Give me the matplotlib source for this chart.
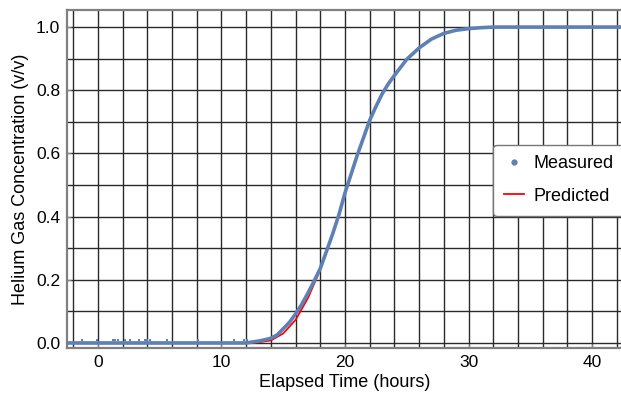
import matplotlib.pyplot as plt
import numpy as np

# measured helium concentration
meas_t = [-2.5, 0, 4, 8, 12, 12.5, 13, 13.5, 14, 14.5, 15, 15.5, 16, 16.5, 17, 17.5,
          18, 18.5, 19, 19.5, 20, 20.5, 21, 21.5, 22, 22.5, 23, 23.5, 24, 25, 26,
          27, 28, 29, 30, 31, 32, 35, 40, 43]
meas_c = [0.0, 0.0, 0.0, 0.0, 0.0, 0.003, 0.006, 0.01, 0.015, 0.025, 0.045, 0.065, 0.092,
          0.122, 0.158, 0.196, 0.236, 0.29, 0.345, 0.405, 0.475, 0.535, 0.595, 0.65,
          0.705, 0.748, 0.788, 0.82, 0.847, 0.898, 0.934, 0.962, 0.98, 0.99, 0.995,
          0.998, 1.0, 1.0, 1.0, 1.0]
# stray readings just above the baseline
stray_t = [-1.3, -0.1, 1.2, 1.4, 1.6, 2.2, 2.6, 3.3, 3.8, 4.0, 4.2, 5.6, 8.1, 11.0, 11.8, 12.1]
stray_c = [0.008] * len(stray_t)

# predicted curve
pred_t = [12, 13, 14, 15, 16, 17, 18, 19, 20, 21, 22, 23, 24, 25, 26, 27, 28, 29, 30, 31, 32]
pred_c = [0.0, 0.002, 0.008, 0.03, 0.073, 0.142, 0.232, 0.345, 0.472, 0.595, 0.705,
          0.788, 0.847, 0.898, 0.934, 0.962, 0.98, 0.99, 0.995, 0.998, 1.0]

plt.rcParams['font.family'] = 'Liberation Sans'

fig = plt.figure(figsize=(6.21, 3.99), dpi=100)
ax = fig.add_axes([67/621, 51/399, 556/621, 338/399])

for gx in np.arange(-2, 43, 2):
    ax.axvline(gx, color='#2a2a2a', lw=1.0, zorder=1)
for gy in np.arange(0, 1.01, 0.1):
    ax.axhline(gy, color='#2a2a2a', lw=1.0, zorder=1)

ax.plot(pred_t, pred_c, color='#ff0000', lw=1.3, zorder=2, label='Predicted')
ax.plot(meas_t, meas_c, color='#5e81b5', lw=2.6, zorder=3, solid_capstyle='butt')
ax.scatter(stray_t, stray_c, s=2, color='#5e81b5', marker='s', lw=0, zorder=3)
ax.plot([], [], 'o', color='#5e81b5', ms=3.5, label='Measured')

ax.set_xlim(-2.5, 42.5)
ax.set_ylim(-0.016, 1.054)
ax.set_xticks([0, 10, 20, 30, 40])
ax.set_yticks([0.0, 0.2, 0.4, 0.6, 0.8, 1.0])
ax.set_yticklabels(['0.0', '0.2', '0.4', '0.6', '0.8', '1.0'])
ax.tick_params(direction='in', length=3, color='#888888', labelsize=12.5, pad=5)

for s in ['left', 'bottom', 'top']:
    ax.spines[s].set_color('#808080')
    ax.spines[s].set_linewidth(1.6)
ax.spines['right'].set_visible(False)

ax.set_xlabel('Elapsed Time (hours)', fontsize=13, labelpad=3)
ax.set_ylabel('Helium Gas Concentration (v/v)', fontsize=13, labelpad=5)

h, l = ax.get_legend_handles_labels()
leg = ax.legend(h[::-1], l[::-1], loc='center left', bbox_to_anchor=(0.766, 0.497),
                borderaxespad=0, fontsize=13, frameon=True, fancybox=True,
                handlelength=1.15, handletextpad=0.5, borderpad=0.6,
                labelspacing=0.85, framealpha=1)
leg.get_frame().set_edgecolor('#777777')
leg.set_zorder(5)

fig.savefig('out.png', dpi=100)
